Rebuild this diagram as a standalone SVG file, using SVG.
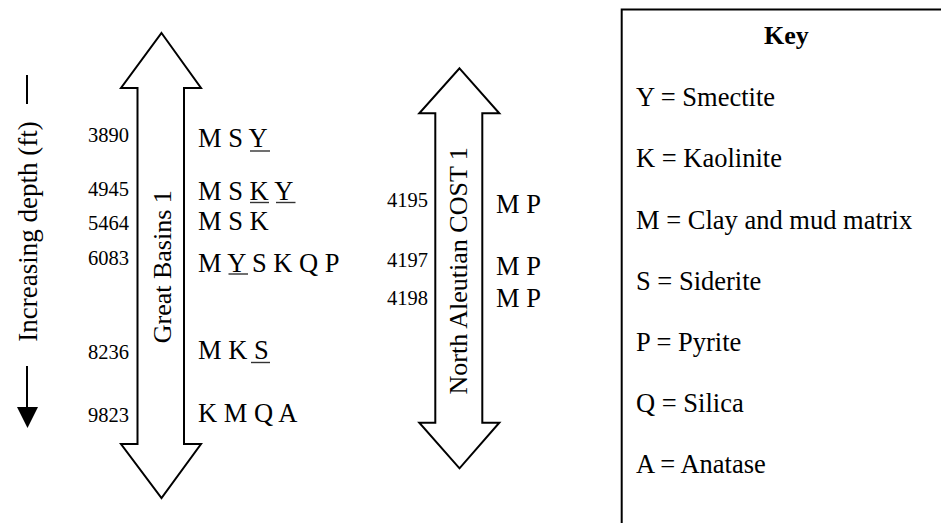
<svg xmlns="http://www.w3.org/2000/svg" width="941" height="523" viewBox="0 0 941 523" font-family="'Liberation Serif', 'Tinos', 'Times New Roman', Times, 'DejaVu Serif', serif">
<style>
text{font-family:'Liberation Serif', Tinos, 'Times New Roman', Times, 'DejaVu Serif', serif;fill:#000}
.num{font-size:20.5px;text-anchor:end}
.let{font-size:26.5px}
.lab{font-size:26px;text-anchor:middle}
.key{font-size:26.5px}
.arrow{fill:#fff;stroke:#000;stroke-width:2;stroke-linejoin:miter}
.ul{stroke:#333;stroke-width:1.4}
</style>
<rect width="941" height="523" fill="#fff"/>
<g id="depth-axis">
<text transform="translate(36.5,341.7) rotate(-90)" style="font-size:27px">Increasing depth (ft)</text>
<line x1="27" y1="75" x2="27" y2="104" stroke="#000" stroke-width="2"/>
<line x1="27" y1="366" x2="27" y2="408" stroke="#000" stroke-width="2"/>
<polygon points="17,407 38,407 27.5,428" fill="#000"/>
</g>
<g id="great-basins">
<polygon class="arrow" points="161.5,33 201,88 184,88 184,444 201,444 161.5,498 121,444 137.5,444 137.5,88 121,88"/>
<text class="lab" transform="translate(170.5,266.7) rotate(-90)">Great Basins 1</text>
<text class="num" x="129" y="142">3890</text>
<text class="num" x="129" y="196">4945</text>
<text class="num" x="129" y="230">5464</text>
<text class="num" x="129" y="265">6083</text>
<text class="num" x="129" y="358.5">8236</text>
<text class="num" x="129" y="421.5">9823</text>
<text class="let" x="198" y="146.5">M S Y</text>
<text class="let" x="198" y="200">M S K Y</text>
<text class="let" x="198" y="230">M S K</text>
<text class="let" x="198" y="271.5">M Y S K Q P</text>
<text class="let" x="198" y="358.5">M K S</text>
<text class="let" x="198" y="421.5">K M Q A</text>
<line class="ul" x1="250" y1="151" x2="270" y2="151"/>
<line class="ul" x1="250" y1="202.5" x2="269" y2="202.5"/>
<line class="ul" x1="276" y1="202.5" x2="295.5" y2="202.5"/>
<line class="ul" x1="228.5" y1="274" x2="248" y2="274"/>
<line class="ul" x1="251" y1="362.5" x2="270" y2="362.5"/>
</g>
<g id="north-aleutian">
<polygon class="arrow" points="459.5,68.3 499.3,113.3 482.3,113.3 482.3,422.7 499.3,422.7 459.5,468.3 419.3,422.7 435.3,422.7 435.3,113.3 419.3,113.3"/>
<text class="lab" transform="translate(467,270.8) rotate(-90)">North Aleutian COST 1</text>
<text class="num" x="428" y="206.7">4195</text>
<text class="num" x="428" y="267.3">4197</text>
<text class="num" x="428" y="305">4198</text>
<text class="let" x="496" y="212.7">M P</text>
<text class="let" x="496" y="275">M P</text>
<text class="let" x="496" y="306.7">M P</text>
</g>
<g id="key">
<path d="M621.7,530 L621.7,9.5 L945,9.5" fill="none" stroke="#000" stroke-width="2"/>
<text x="786.3" y="44" text-anchor="middle" style="font-size:26px;font-weight:bold">Key</text>
<text class="key" x="636" y="106">Y = Smectite</text>
<text class="key" x="636" y="167">K = Kaolinite</text>
<text class="key" x="636" y="228.5">M = Clay and mud matrix</text>
<text class="key" x="636" y="289.5">S = Siderite</text>
<text class="key" x="636" y="350.7">P = Pyrite</text>
<text class="key" x="636" y="412">Q = Silica</text>
<text class="key" x="636" y="473">A = Anatase</text>
</g>
<g id="connectors"></g>
</svg>
